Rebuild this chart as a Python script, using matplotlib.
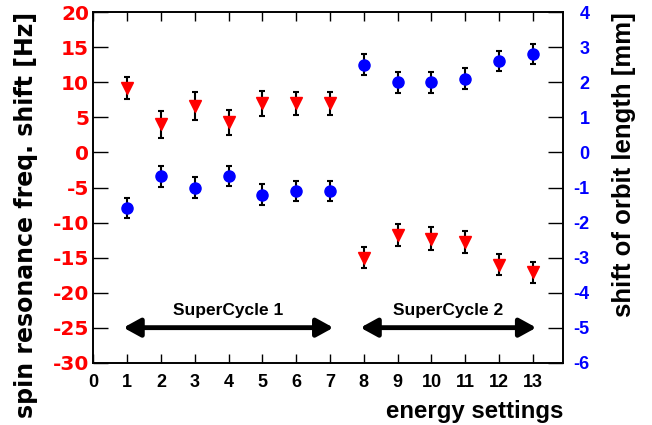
import numpy as np
import matplotlib.pyplot as plt

# energy settings
settings = np.arange(1, 14)

# spin resonance frequency shift [Hz] (red triangles)
freq_shift = [9.2, 4.0, 6.6, 4.3, 7.0, 7.0, 7.0, -15.0, -11.8, -12.3, -12.8, -16.0, -17.1]
freq_err = [1.5, 1.9, 2.0, 1.8, 1.8, 1.7, 1.6, 1.5, 1.6, 1.6, 1.6, 1.5, 1.5]

# shift of orbit length [mm] (blue circles)
orbit_shift = [-1.59, -0.68, -1.0, -0.68, -1.2, -1.1, -1.1, 2.51, 2.0, 2.0, 2.11, 2.61, 2.81]
orbit_err = [0.29, 0.3, 0.29, 0.29, 0.29, 0.29, 0.29, 0.29, 0.29, 0.29, 0.29, 0.29, 0.29]

plt.rcParams['font.family'] = ['Liberation Sans', 'DejaVu Sans']
plt.rcParams['font.weight'] = 'bold'
plt.rcParams['axes.unicode_minus'] = False

fig = plt.figure(figsize=(6.52, 4.25), dpi=100)
ax = fig.add_axes([0.1431, 0.1466, 0.7209, 0.8244])
ax2 = ax.twinx()

ax.errorbar(settings, freq_shift, yerr=freq_err, fmt='v', color='red', ms=9,
            ecolor='black', elinewidth=1.5, capsize=2.5, capthick=1.5, zorder=3)
ax2.errorbar(settings, orbit_shift, yerr=orbit_err, fmt='o', color='blue', ms=8,
             ecolor='black', elinewidth=1.5, capsize=2.5, capthick=1.5, zorder=3)

ax.set_xlim(0, 13.9)
ax.set_ylim(-30, 20)
ax2.set_ylim(-6, 4)

ax.set_xticks(range(0, 14))
ax.set_yticks(range(-30, 21, 5))
ax2.set_yticks(range(-6, 5))

for a in (ax, ax2):
    for s in a.spines.values():
        s.set_linewidth(1.2)

ax.tick_params(axis='x', direction='in', length=6.5, width=1, top=True, labelsize=13, pad=8)
ax.tick_params(axis='y', direction='in', length=11, width=1, labelcolor='red', pad=3)
ax2.tick_params(axis='y', direction='in', length=11, width=1, labelsize=13, labelcolor='blue', pad=19)
for lab in ax.get_xticklabels() + ax2.get_yticklabels():
    lab.set_fontweight('bold')
for lab in ax.get_yticklabels():
    lab.set_fontfamily('DejaVu Sans')
    lab.set_fontsize(14.5)
    lab.set_fontweight('bold')
for lab in ax2.get_yticklabels():
    lab.set_horizontalalignment('right')

ax.set_ylabel('spin resonance freq. shift [Hz]', fontsize=17, fontweight='bold',
              family='DejaVu Sans', loc='top')
ax.yaxis.set_label_coords(-0.143, 1.0)
ax.yaxis.label.set_va('center')

ax2.set_ylabel('shift of orbit length [mm]', fontsize=18.5, fontweight='bold', loc='top')
ax2.yaxis.set_label_coords(1.129, 1.0)
ax2.yaxis.label.set_va('center')

ax.set_xlabel('energy settings', fontsize=17.3, fontweight='bold', loc='right')
ax.xaxis.set_label_coords(1.0, -0.158)
ax.xaxis.label.set_va('baseline')

# supercycle arrows
arrow = dict(arrowstyle='<|-|>,head_length=1.0,head_width=0.55', color='black', lw=3.5,
             shrinkA=0, shrinkB=0)
ax.annotate('', xy=(0.89, -25), xytext=(7.1, -25), arrowprops=arrow)
ax.annotate('', xy=(7.9, -25), xytext=(13.1, -25), arrowprops=arrow)
ax.text(4.0, -22.5, 'SuperCycle 1', ha='center', va='center', fontsize=12.5, fontweight='bold')
ax.text(10.5, -22.5, 'SuperCycle 2', ha='center', va='center', fontsize=12.5, fontweight='bold')

fig.savefig('out.png', dpi=100)
